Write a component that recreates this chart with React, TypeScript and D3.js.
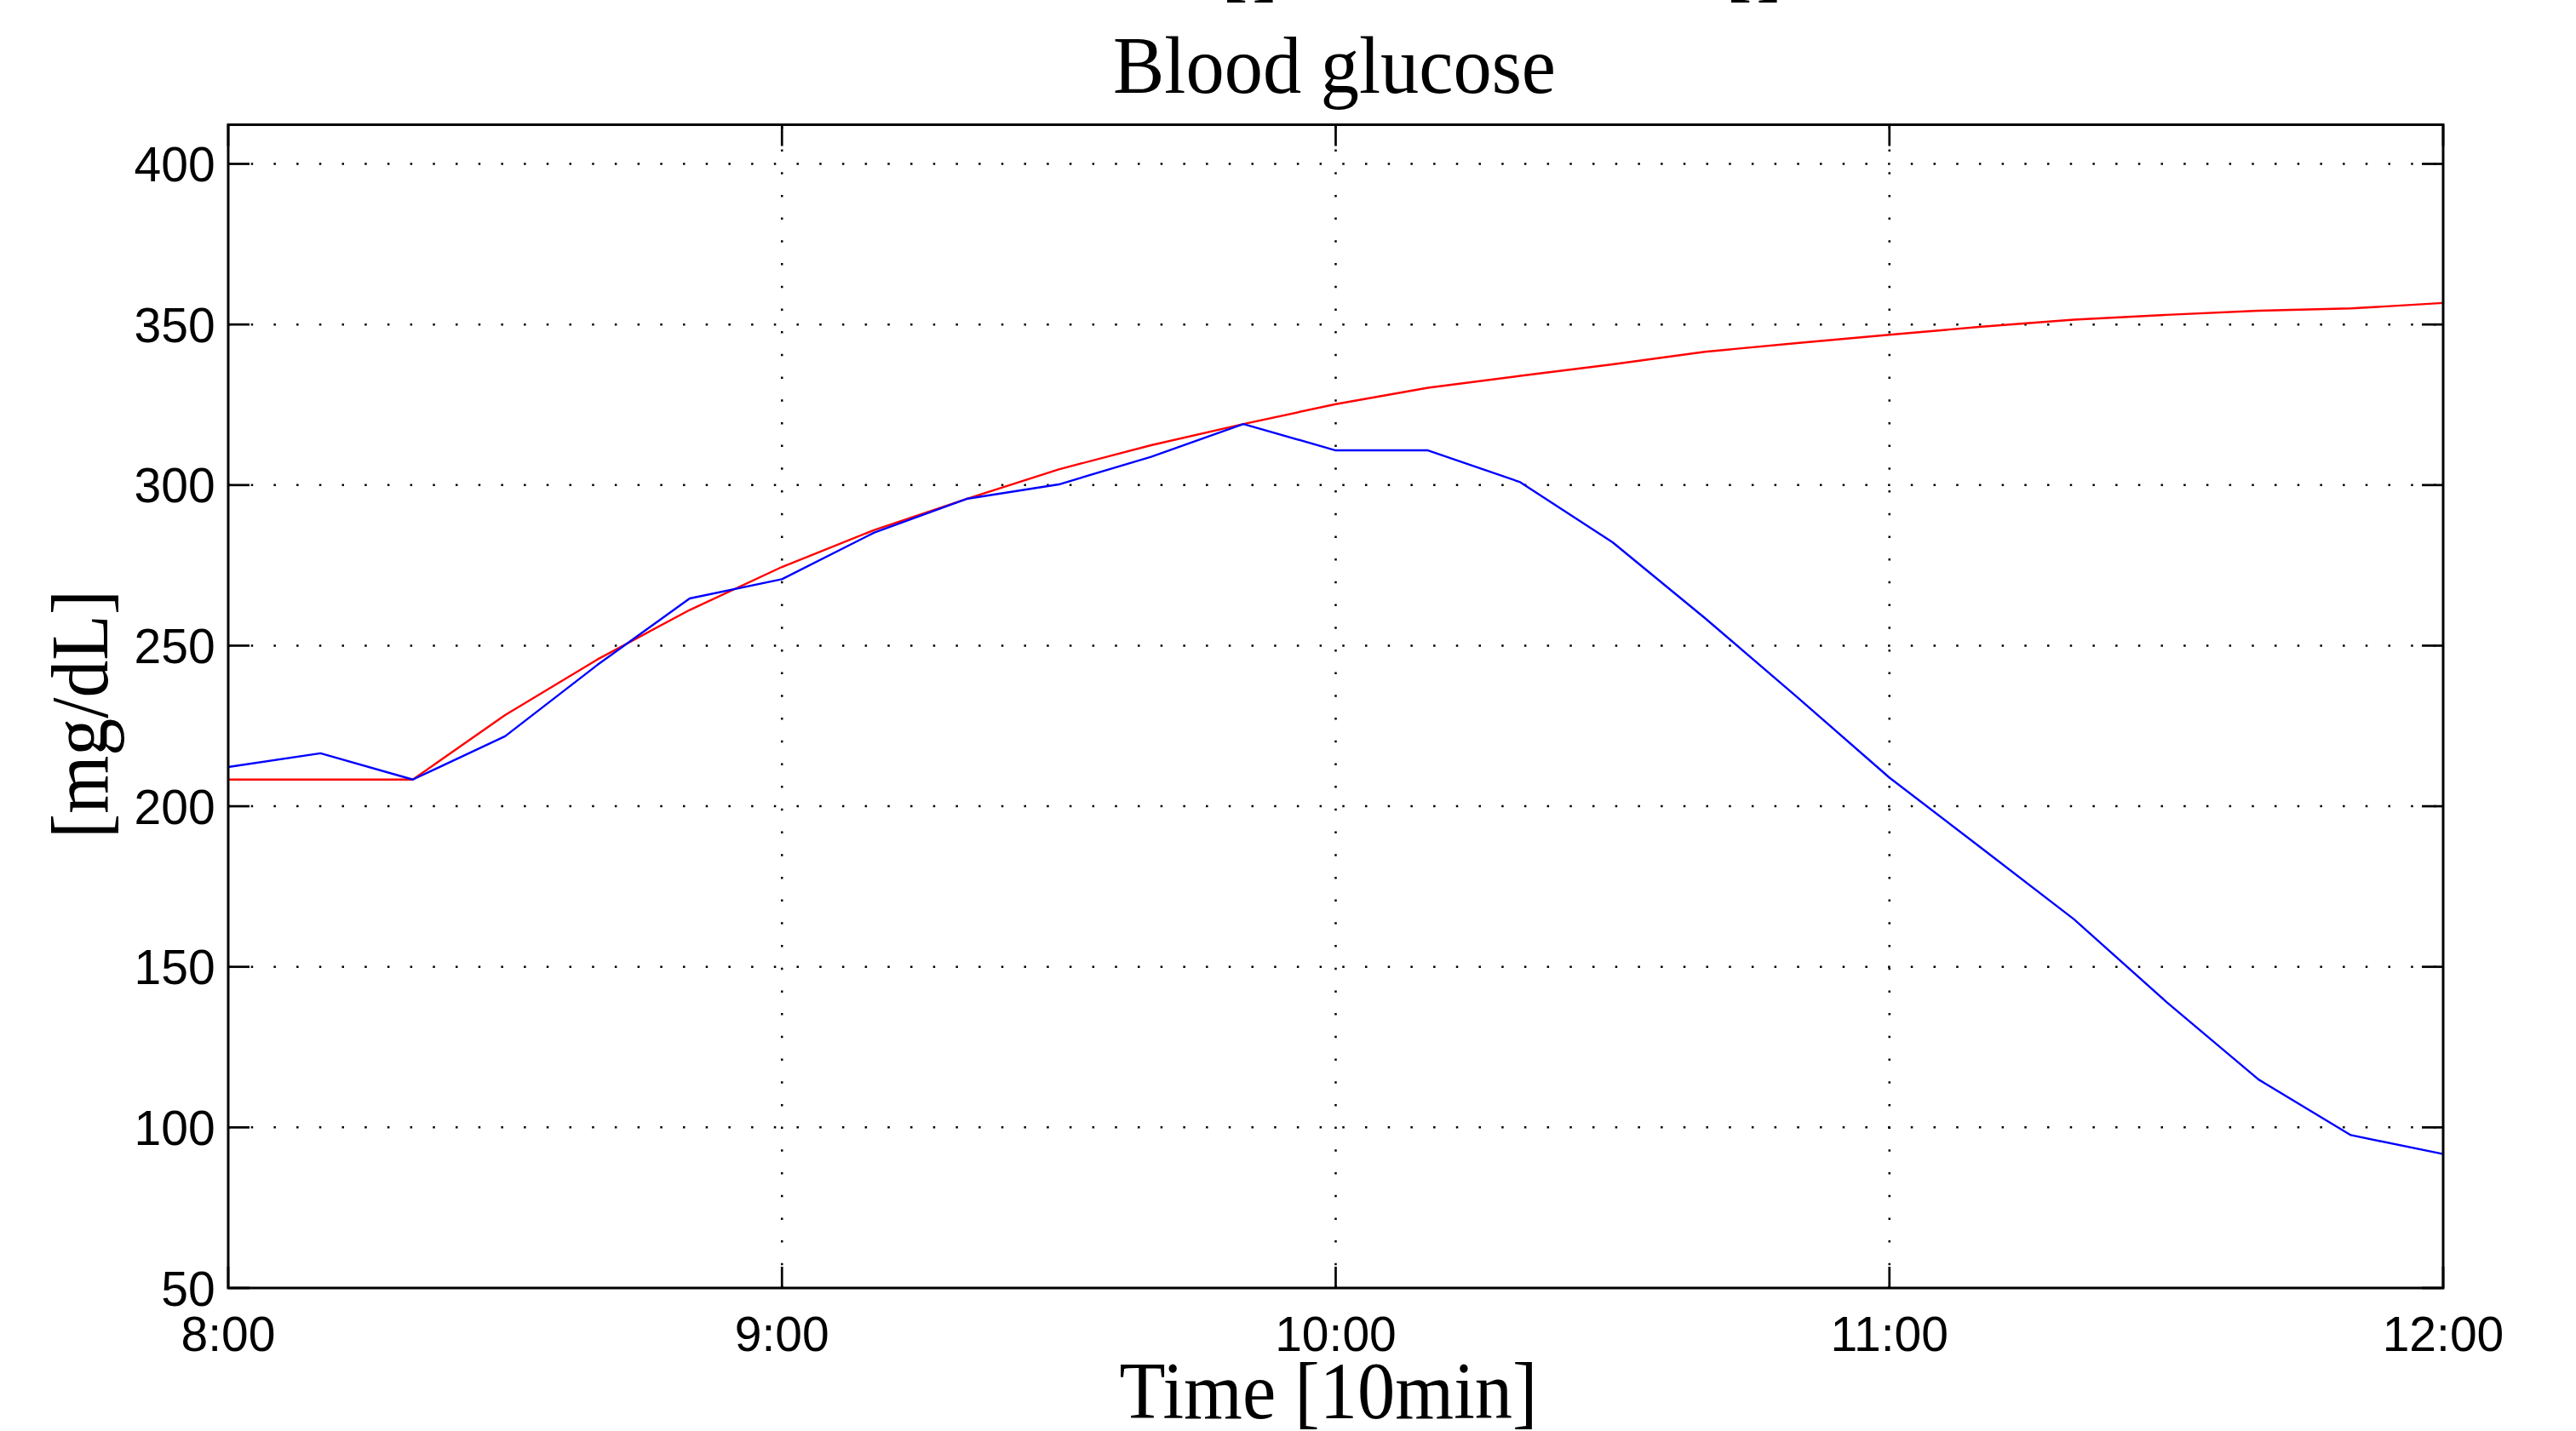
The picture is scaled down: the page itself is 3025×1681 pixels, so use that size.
import React from "react";
import * as d3 from "d3";

// minutes after 8:00, every 10 minutes
const times: number[] = [0, 10, 20, 30, 40, 50, 60, 70, 80, 90, 100, 110, 120, 130, 140, 150, 160, 170, 180, 190, 200, 210, 220, 230, 240];
const measured: number[] = [212.2, 216.5, 208.3, 221.8, 244.0, 264.7, 270.7, 285.2, 295.7, 300.2, 308.8, 319.0, 310.8, 310.8, 300.9, 282.2, 258.6, 234.0, 208.9, 186.9, 164.8, 139.1, 114.9, 97.6, 91.7];
const predicted: number[] = [208.3, 208.3, 208.3, 228.4, 245.7, 261.1, 274.5, 286.0, 295.7, 304.9, 312.4, 319.0, 325.2, 330.3, 334.0, 337.6, 341.5, 344.2, 346.8, 349.3, 351.5, 353.0, 354.3, 355.0, 356.7];
const xTicks: number[] = [0, 60, 120, 180, 240];
const xTickLabels: string[] = ["8:00", "9:00", "10:00", "11:00", "12:00"];
const yTicks: number[] = [50, 100, 150, 200, 250, 300, 350, 400];

const W = 3025;
const H = 1681;
const L = 268, R = 2869, T = 146.5, B = 1513;

export default function App() {
  const x = d3.scaleLinear().domain([0, 240]).range([L, R]);
  const y = d3.scaleLinear().domain([50, 412.2]).range([B, T]);
  const line = d3.line<number>().x((_, i) => x(times[i])).y((d) => y(d));
  const tick = 25;
  const sans = "'Liberation Sans', Arial, sans-serif";
  const serif = "'Liberation Serif', 'Times New Roman', serif";
  return (
    <svg width={W} height={H} style={{ position: "absolute", left: 0, top: 0, background: "#fff" }}>
      <rect x={0} y={0} width={W} height={H} fill="#fff" />
      {/* cut-off text remnants at top */}
      <g fontFamily={serif} fontSize={95} fill="#000">
        <text x={1434} y={-10}>[</text>
        <text x={1470} y={-10}>]</text>
        <text x={2026} y={-10}>[</text>
        <text x={2062} y={-10}>]</text>
      </g>
      {/* grid */}
      <g stroke="#000" strokeWidth={2.5} strokeDasharray="2.5,24.2" fill="none">
        {yTicks.filter((t) => t > 50).map((t) => (
          <line key={"gy" + t} x1={L} x2={R} y1={y(t)} y2={y(t)} />
        ))}
        {xTicks.filter((t) => t > 0 && t < 240).map((t) => (
          <line key={"gx" + t} x1={x(t)} x2={x(t)} y1={B} y2={T} />
        ))}
      </g>
      {/* data */}
      <path d={line(predicted) || ""} fill="none" stroke="#ff0000" strokeWidth={2.4} strokeLinejoin="round" />
      <path d={line(measured) || ""} fill="none" stroke="#0000ff" strokeWidth={2.4} strokeLinejoin="round" />
      {/* ticks */}
      <g stroke="#000" strokeWidth={2.7}>
        {yTicks.map((t) => (
          <g key={"ty" + t}>
            <line x1={L} x2={L + tick} y1={y(t)} y2={y(t)} />
            <line x1={R} x2={R - tick} y1={y(t)} y2={y(t)} />
          </g>
        ))}
        {xTicks.map((t) => (
          <g key={"tx" + t}>
            <line x1={x(t)} x2={x(t)} y1={B} y2={B - tick} />
            <line x1={x(t)} x2={x(t)} y1={T} y2={T + tick} />
          </g>
        ))}
      </g>
      {/* box */}
      <rect x={L} y={T} width={R - L} height={B - T} fill="none" stroke="#000" strokeWidth={3} />
      {/* tick labels */}
      <g fontFamily={sans} fontSize={57} fill="#000">
        {yTicks.map((t) => (
          <text key={"ly" + t} x={252.6} y={y(t) + 20.5} textAnchor="end">{t}</text>
        ))}
        {xTicks.map((t, i) => (
          <text key={"lx" + t} x={x(t)} y={1586.7} textAnchor="middle">{xTickLabels[i]}</text>
        ))}
      </g>
      {/* titles */}
      <g fontFamily={serif} fontSize={96} fill="#000">
        <text x={1567} y={109} textAnchor="middle" textLength={520} lengthAdjust="spacingAndGlyphs">Blood glucose</text>
        <text x={1560} y={1666} textAnchor="middle" textLength={491} lengthAdjust="spacingAndGlyphs">Time [10min]</text>
        <text transform="translate(126,839) rotate(-90)" x={0} y={0} textAnchor="middle" textLength={292} lengthAdjust="spacingAndGlyphs">[mg/dL]</text>
      </g>
    </svg>
  );
}
